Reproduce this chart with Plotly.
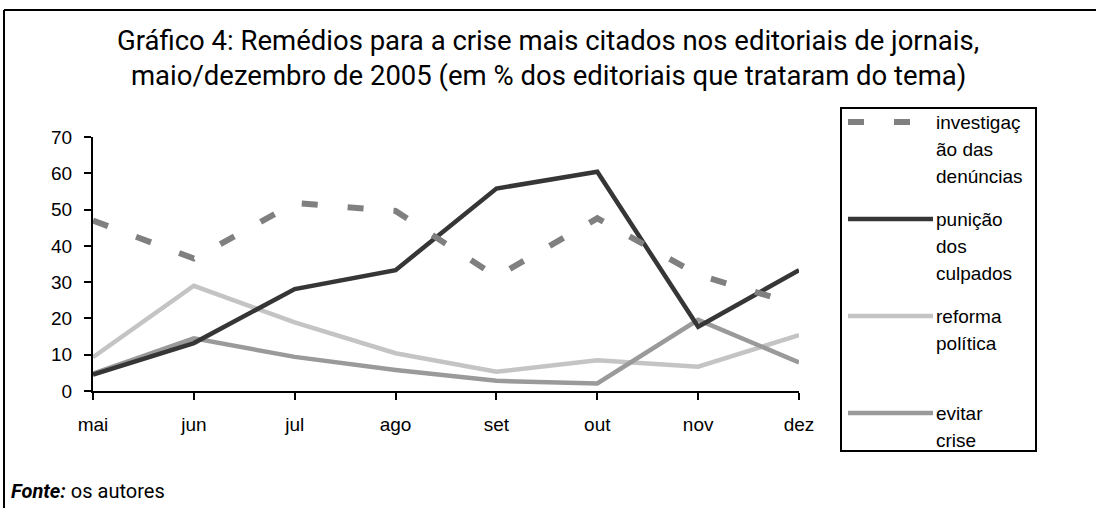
import plotly.graph_objects as go

months = ["mai", "jun", "jul", "ago", "set", "out", "nov", "dez"]
investigacao = [47, 36.5, 51.8, 49.6, 31.5, 47.6, 32, 23.7]
punicao = [4.5, 13.2, 28.1, 33.3, 55.8, 60.4, 17.7, 33.3]
reforma = [9.3, 29, 18.9, 10.4, 5.3, 8.5, 6.7, 15.4]
evitar = [4.8, 14.5, 9.4, 5.8, 2.8, 2.1, 19.6, 7.9]

series_names = ["investigação das denúncias", "punição dos culpados", "reforma política", "evitar crise"]
legend_lines = [["investigaç", "ão das", "denúncias"], ["punição", "dos", "culpados"], ["reforma", "política"], ["evitar", "crise"]]
y_ticks = [0, 10, 20, 30, 40, 50, 60, 70]

W, H = 1096, 508
L, R, T, B = 93, 799, 137, 391


def px(x):
    return (x - L) / (R - L)


def py(y):
    return (B - y) / (B - T)


styles = [
    dict(color="#808080", width=6, dash="16px,30px"),
    dict(color="#363636", width=4.5),
    dict(color="#c4c4c4", width=4.5),
    dict(color="#9a9a9a", width=4.5),
]
data = [investigacao, punicao, reforma, evitar]
xs = list(range(len(months)))

fig = go.Figure()
for i in [2, 3, 1, 0]:
    fig.add_trace(go.Scatter(x=xs, y=data[i], mode="lines", name=series_names[i],
                             line=styles[i], showlegend=False, hoverinfo="x+y+name"))

shapes = []
annotations = []

shapes.append(dict(type="line", xref="paper", yref="paper", x0=px(4), x1=px(1100), y0=py(10), y1=py(10),
                   line=dict(color="black", width=2)))
shapes.append(dict(type="line", xref="paper", yref="paper", x0=px(4), x1=px(4), y0=py(10), y1=py(520),
                   line=dict(color="black", width=2)))

shapes.append(dict(type="rect", xref="paper", yref="paper", x0=px(841), x1=px(1036), y0=py(108), y1=py(451),
                   line=dict(color="black", width=2), fillcolor="rgba(0,0,0,0)"))
legend_y = [122, 219, 316, 413]
for i in range(4):
    st = styles[i]
    shapes.append(dict(type="line", xref="paper", yref="paper", x0=px(848), x1=px(933 if i else 912),
                       y0=py(legend_y[i]), y1=py(legend_y[i]),
                       line=dict(color=st["color"], width=st["width"], dash=st.get("dash", "solid"))))
    for j, t in enumerate(legend_lines[i]):
        annotations.append(dict(text=t, xref="paper", yref="paper", x=px(934), y=py(legend_y[i] + 27 * j),
                                xanchor="left", yanchor="middle", showarrow=False,
                                font=dict(family="Arial, Liberation Sans", size=19, color="black")))

title_lines = ["Gráfico 4: Remédios para a crise mais citados nos editoriais de jornais,",
               "maio/dezembro de 2005 (em % dos editoriais que trataram do tema)"]
for j, t in enumerate(title_lines):
    annotations.append(dict(text=t, xref="paper", yref="paper", x=px(548), y=py(40 + 35 * j),
                            xanchor="center", yanchor="middle", showarrow=False,
                            font=dict(family="Roboto, sans-serif", size=27.5, color="black")))

annotations.append(dict(text="<b><i>Fonte:</i></b> os autores", xref="paper", yref="paper", x=px(9), y=py(491),
                        xanchor="left", yanchor="middle", showarrow=False,
                        font=dict(family="Roboto, sans-serif", size=20, color="black")))

tick_font = dict(family="Arial, Liberation Sans", size=19, color="black")
fig.update_layout(
    width=W, height=H,
    margin=dict(l=L, r=W - R, t=T, b=H - B, pad=0),
    paper_bgcolor="white", plot_bgcolor="white",
    shapes=shapes, annotations=annotations,
    xaxis=dict(range=[0, 7], tickmode="array", tickvals=xs, ticktext=months, showgrid=False, zeroline=False,
               showline=True, linecolor="black", linewidth=2, ticks="outside", ticklen=7, tickwidth=2,
               tickcolor="black", tickfont=tick_font, ticklabelstandoff=8),
    yaxis=dict(range=[0, 70], tickmode="array", tickvals=y_ticks, showgrid=False, zeroline=False,
               showline=True, linecolor="black", linewidth=2, ticks="outside", ticklen=7, tickwidth=2,
               tickcolor="black", tickfont=tick_font, ticklabelstandoff=8),
    showlegend=False,
)

fig.write_html("out.html", config={"displayModeBar": False},
               post_script="document.body.style.margin='0px';")
